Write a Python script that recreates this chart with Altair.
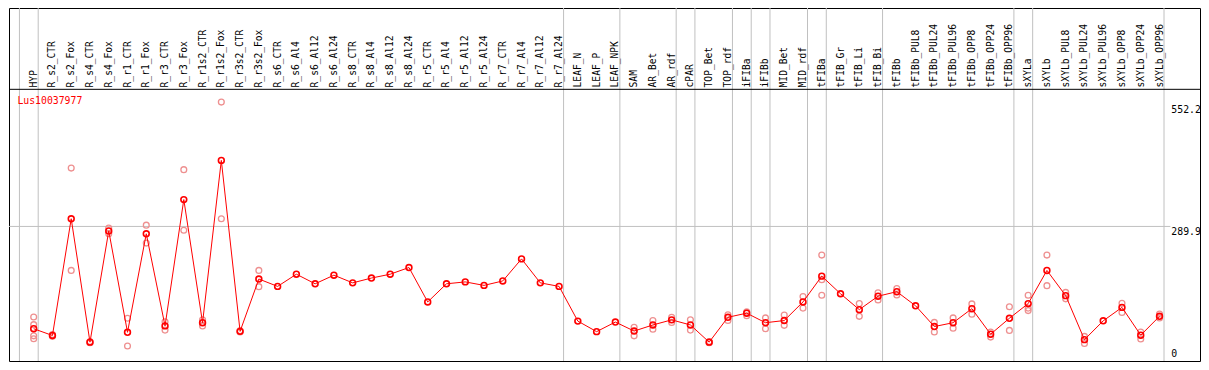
import altair as alt
import pandas as pd

gene = "Lus10037977"

samples = ["HYP", "R_s2_CTR", "R_s2_Fox", "R_s4_CTR", "R_s4_Fox", "R_r1_CTR", "R_r1_Fox",
           "R_r3_CTR", "R_r3_Fox", "R_r1s2_CTR", "R_r1s2_Fox", "R_r3s2_CTR", "R_r3s2_Fox",
           "R_s6_CTR", "R_s6_Al4", "R_s6_Al12", "R_s6_Al24", "R_s8_CTR", "R_s8_Al4", "R_s8_Al12",
           "R_s8_Al24", "R_r5_CTR", "R_r5_Al4", "R_r5_Al12", "R_r5_Al24", "R_r7_CTR", "R_r7_Al4",
           "R_r7_Al12", "R_r7_Al24", "LEAF_N", "LEAF_P", "LEAF_NPK", "SAM", "AR_Bet", "AR_rdf",
           "cPAR", "TOP_Bet", "TOP_rdf", "iFIBa", "iFIBb", "MID_Bet", "MID_rdf", "tFIBa",
           "tFIB_Gr", "tFIB_Li", "tFIB_Bi", "tFIBb", "tFIBb_PUL8", "tFIBb_PUL24", "tFIBb_PUL96",
           "tFIBb_OPP8", "tFIBb_OPP24", "tFIBb_OPP96", "sXYLa", "sXYLb", "sXYLb_PUL8",
           "sXYLb_PUL24", "sXYLb_PUL96", "sXYLb_OPP8", "sXYLb_OPP24", "sXYLb_OPP96"]

mean_values = [74.1, 59.9, 306.1, 45.8, 280.5, 66.6, 274.4, 80.1, 346.5, 86.8, 429.2, 68.6, 179.0,
               163.4, 189.1, 168.9, 187.1, 170.9, 181.0, 189.1, 203.2, 130.6, 168.9, 172.9, 165.5,
               174.9, 221.4, 170.9, 163.4,
               90.2, 68.0, 88.2, 69.2, 82.1, 92.8, 82.1, 45.8, 98.3, 106.9, 86.8, 91.4, 130.6,
               185.0, 147.9, 114.4, 142.7, 152.3, 122.5, 78.7, 86.8, 116.4, 62.6, 96.2,
               127.1, 197.1, 143.9, 51.1, 90.8, 119.1, 60.5, 100.3]

replicate_values = [
    [98.9, 82.7, 59.1, 53.1], [62.0, 58.0], [413.0, 197.1], [47.0, 44.6], [286.5, 274.4],
    [96.2, 37.7], [292.6, 254.8], [88.8, 71.2], [409.6, 281.9], [92.8, 80.1], [552.2, 306.1],
    [70.0, 67.2], [197.1, 162.8],
    [], [], [], [], [], [], [], [], [], [], [], [], [], [], [], [],
    [], [], [], [77.3, 59.1], [91.4, 73.2], [98.3, 87.4], [92.8, 71.2], [47.0, 44.6],
    [103.5, 91.4], [109.6, 101.5], [96.9, 74.1], [102.9, 81.3], [141.9, 117.6],
    [229.4, 177.6, 144.7], [], [127.1, 100.3], [149.9, 134.6], [158.8, 145.3], [],
    [87.4, 67.2], [96.9, 75.3], [126.5, 104.9], [67.2, 56.5], [120.5, 70.6],
    [144.7, 117.6, 112.4], [229.4, 164.9], [150.7, 137.2], [57.9, 43.0], [],
    [127.7, 108.4], [67.2, 52.5], [104.9, 96.9],
]

# last column index of each sample group (a separator is drawn after it)
group_last = [-1, 0, 28, 31, 34, 35, 37, 38, 39, 41, 42, 45, 52, 53, 60]
tick_values = [552.2, 289.9, 0]

# ---- layout (pixels) ----
W, H = 1191, 353
SX, SY = W / 1206.0, H / 369.0
RED = "#ff0000"
PINK = "#ee9090"
GRID = "#c0c0c0"
FONT = "DejaVu Sans Mono"

xscale = alt.Scale(domain=[-25 / 19.0, 1181 / 19.0], nice=False, zero=False)
yscale = alt.Scale(domain=[3 / 0.4956, 372 / 0.4956], nice=False, zero=False)

mean_df = pd.DataFrame({"idx": list(range(len(samples))), "sample": samples, "value": mean_values})
rep_rows = []
for i, reps in enumerate(replicate_values):
    for r in reps:
        rep_rows.append({"idx": i, "sample": samples[i], "value": r})
rep_df = pd.DataFrame(rep_rows)
grid_df = pd.DataFrame({"last": group_last})
tick_df = pd.DataFrame({"value": tick_values, "label": [str(t) for t in tick_values]})
one = pd.DataFrame({"k": [0]})

X = alt.X("idx:Q", scale=xscale, axis=None)
Y = alt.Y("value:Q", scale=yscale, axis=None)

vgrid = alt.Chart(grid_df).transform_calculate(idx="datum.last + 0.24").mark_rule(
    color=GRID, strokeWidth=1).encode(x=X, y=alt.value(0), y2=alt.value(H))

hgrid = alt.Chart(tick_df).transform_filter("datum.value == 289.9").mark_rule(
    color=GRID, strokeWidth=1).encode(y=Y, x=alt.value(0), x2=alt.value(1176 * SX))

sep = alt.Chart(one).mark_rule(color="black", strokeWidth=1).encode(
    y=alt.value(85 * SY), x=alt.value(0), x2=alt.value(W))

labels = alt.Chart(mean_df).mark_text(
    angle=270, align="left", baseline="middle", font=FONT, fontSize=9.6, color="black"
).encode(x=X, y=alt.value(83 * SY), text="sample:N")

reps = alt.Chart(rep_df).mark_point(
    shape="circle", filled=False, color=PINK, size=34, strokeWidth=1.3, opacity=1
).encode(x=X, y=Y)

line = alt.Chart(mean_df).mark_line(color=RED, strokeWidth=1).encode(x=X, y=Y, order="idx:Q")

means = alt.Chart(mean_df).mark_point(
    shape="circle", filled=False, color=RED, size=34, strokeWidth=1.6, opacity=1
).encode(x=X, y=Y)

title = alt.Chart(one).mark_text(
    align="left", baseline="middle", font=FONT, fontSize=9.8, color=RED, text=gene
).encode(x=alt.value(8.5 * SX), y=alt.value(97.5 * SY))

tick_layers = []
tick_dy = {552.2: 8.3, 289.9: 6.0, 0: -9.6}
for t in tick_values:
    tick_layers.append(
        alt.Chart(tick_df).transform_filter(f"datum.value == {t}").mark_text(
            align="left", baseline="middle", font=FONT, fontSize=9.8, color="black",
            dy=tick_dy[t]
        ).encode(x=alt.value(1177 * SX), y=Y, text="label:N")
    )

chart = alt.layer(vgrid, hgrid, sep, labels, reps, line, means, title, *tick_layers).properties(
    width=W, height=H,
    padding={"left": 1, "top": 0, "right": 1, "bottom": 1},
    autosize=alt.AutoSizeParams(type="none"),
    background="white",
).configure_view(stroke="black", strokeWidth=1)

chart.save("out.html", embed_options={"renderer": "svg", "actions": False})
